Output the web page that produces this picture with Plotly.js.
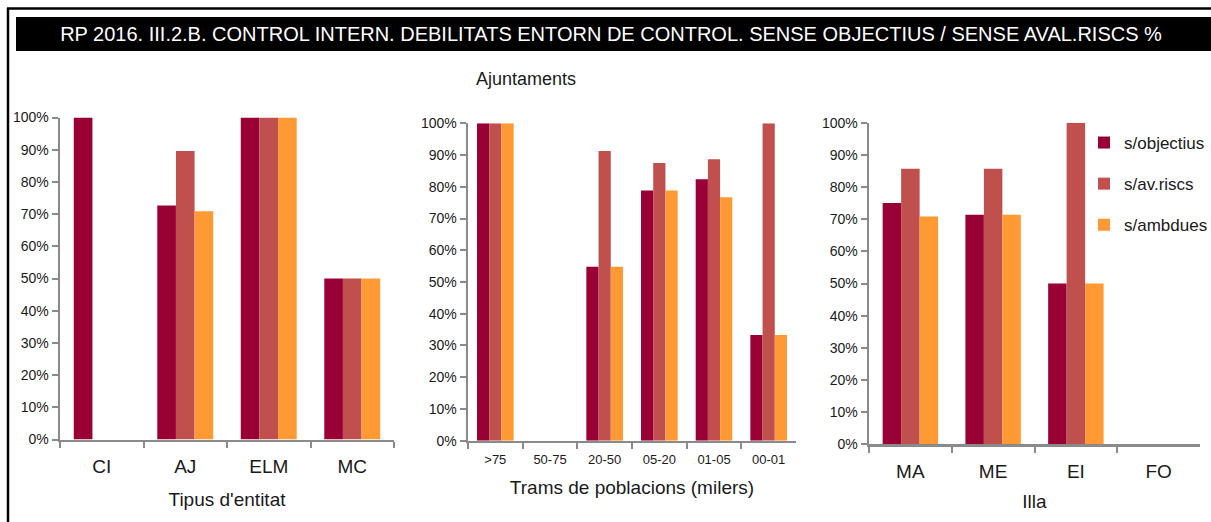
<!DOCTYPE html>
<html>
<head>
<meta charset="utf-8">
<script src="https://cdn.plot.ly/plotly-3.0.1.min.js"></script>
<style>html,body{margin:0;padding:0;background:#fff;overflow:hidden;}#chart{width:1211px;height:522px;}</style>
</head>
<body>
<div id="chart"></div>
<script>
// ---- data ----
const seriesNames = ['s/objectius', 's/av.riscs', 's/ambdues'];
const seriesColors = ['#990033', '#C0504D', '#FF9933'];

const cat1 = ['CI', 'AJ', 'ELM', 'MC'];
const p1Objectius = [100, 72.7, 100, 50];
const p1AvRiscs = [0, 89.6, 100, 50];
const p1Ambdues = [0, 70.9, 100, 50];

const cat2 = ['>75', '50-75', '20-50', '05-20', '01-05', '00-01'];
const p2Objectius = [100, 0, 54.8, 78.8, 82.4, 33.3];
const p2AvRiscs = [100, 0, 91.3, 87.5, 88.7, 100];
const p2Ambdues = [100, 0, 54.8, 78.8, 76.7, 33.3];

const cat3 = ['MA', 'ME', 'EI', 'FO'];
const p3Objectius = [75, 71.4, 50, 0];
const p3AvRiscs = [85.7, 85.7, 100, 0];
const p3Ambdues = [70.8, 71.4, 50, 0];

const mainTitle = 'RP 2016. III.2.B. CONTROL INTERN. DEBILITATS ENTORN DE CONTROL. SENSE OBJECTIUS / SENSE AVAL.RISCS %';
const subTitle = 'Ajuntaments';
const axisTitles = ["Tipus d'entitat", 'Trams de poblacions (milers)', 'Illa'];

// ---- layout helpers ----
const W = 1211, H = 522;
const fx = p => p / W;
const fy = p => 1 - p / H;
const FONT = '"Liberation Sans", Arial, sans-serif';
const AX = '#8a8a8a';
const TXT = '#1a1a1a';

const panels = [
  {cats: cat1, vals: [p1Objectius, p1AvRiscs, p1Ambdues], x0: 60, x1: 394, y0: 439.5, y1: 117.5, catSize: 19, catStand: 8, titleStand: 17},
  {cats: cat2, vals: [p2Objectius, p2AvRiscs, p2Ambdues], x0: 468, x1: 796, y0: 440.7, y1: 123.3, catSize: 13, catStand: 5, titleStand: 15},
  {cats: cat3, vals: [p3Objectius, p3AvRiscs, p3Ambdues], x0: 869, x1: 1200, y0: 444.3, y1: 122.7, catSize: 19, catStand: 8, titleStand: 14}
];

const data = [];
const layout = {
  width: W, height: H,
  margin: {l: 0, r: 0, t: 0, b: 0, autoexpand: false},
  paper_bgcolor: '#ffffff', plot_bgcolor: '#ffffff',
  font: {family: FONT, color: TXT, size: 14},
  barmode: 'group', bargap: 0.33, bargroupgap: 0,
  showlegend: true,
  legend: {x: fx(1084), y: fy(125), xanchor: 'left', yanchor: 'top',
           font: {size: 17, family: FONT, color: TXT}, tracegroupgap: 16, bgcolor: 'rgba(0,0,0,0)',
           itemwidth: 30},
  title: {text: mainTitle, x: fx(611), xanchor: 'center', y: fy(34), yanchor: 'middle',
          font: {size: 20, color: '#ffffff', family: FONT}},
  shapes: [
    {type: 'rect', xref: 'paper', yref: 'paper', x0: fx(16), x1: 1, y0: fy(51), y1: fy(17),
     fillcolor: '#000000', line: {width: 0}, layer: 'below'},
    {type: 'line', xref: 'paper', yref: 'paper', x0: fx(7), x1: 1, y0: fy(8.5), y1: fy(8.5),
     line: {color: '#000000', width: 2.5}},
    {type: 'line', xref: 'paper', yref: 'paper', x0: fx(8), x1: fx(8), y0: fy(8), y1: 0,
     line: {color: '#000000', width: 2.5}}
  ],
  annotations: [
    {text: subTitle, xref: 'paper', yref: 'paper', x: fx(526), y: fy(79), xanchor: 'center', yanchor: 'middle',
     showarrow: false, font: {size: 18, family: FONT, color: TXT}}
  ]
};

panels.forEach((p, i) => {
  const n = i === 0 ? '' : String(i + 1);
  p.vals.forEach((v, k) => {
    data.push({
      type: 'bar', x: p.cats, y: v, name: seriesNames[k],
      xaxis: 'x' + n, yaxis: 'y' + n,
      marker: {color: seriesColors[k], line: {width: 0}},
      showlegend: i === 0, legendgroup: 'g' + k,
      hoverinfo: 'skip'
    });
  });
  layout['xaxis' + n] = {
    domain: [fx(p.x0), fx(p.x1)], anchor: 'y' + n,
    type: 'category', showline: true, linecolor: AX, linewidth: 2.5,
    ticks: 'outside', ticklen: 6, tickwidth: 2, tickcolor: AX, tickson: 'boundaries',
    showgrid: false, zeroline: false, fixedrange: true, automargin: false,
    tickfont: {size: p.catSize, color: TXT}, ticklabelstandoff: p.catStand,
    title: {text: axisTitles[i], font: {size: 19, color: TXT}, standoff: p.titleStand}
  };
  layout['yaxis' + n] = {
    domain: [fy(p.y0), fy(p.y1)], anchor: 'x' + n,
    range: [0, 100], dtick: 10, ticksuffix: '%',
    showline: true, linecolor: AX, linewidth: 2.5,
    ticks: 'outside', ticklen: 6, tickwidth: 2, tickcolor: AX,
    showgrid: false, zeroline: false, fixedrange: true, automargin: false,
    tickfont: {size: 14, color: TXT}, ticklabelstandoff: 0
  };
});

Plotly.newPlot('chart', data, layout, {displayModeBar: false, staticPlot: true});
</script>
</body>
</html>
